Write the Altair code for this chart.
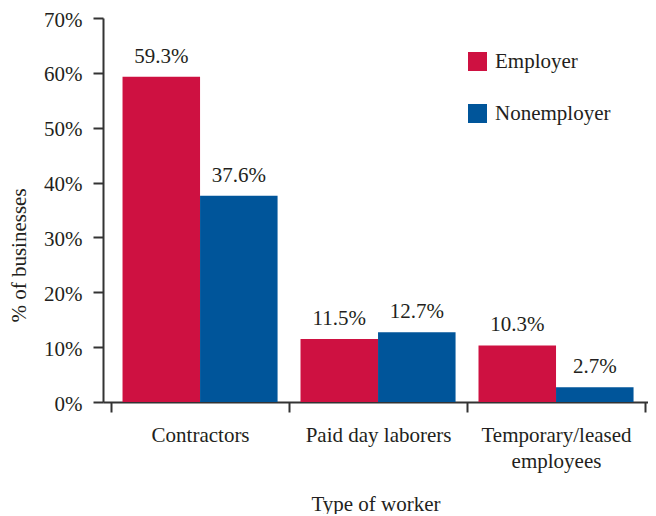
import altair as alt
import pandas as pd

categories = ["Contractors", "Paid day laborers", "Temporary/leased employees"]
series = ["Employer", "Nonemployer"]
employer = [59.3, 11.5, 10.3]
nonemployer = [37.6, 12.7, 2.7]
colors = ["#CE1141", "#00559A"]
y_ticks = [0, 10, 20, 30, 40, 50, 60, 70]

rows = []
for i, c in enumerate(categories):
    rows.append({"cat": c, "series": series[0], "value": employer[i]})
    rows.append({"cat": c, "series": series[1], "value": nonemployer[i]})
df = pd.DataFrame(rows)
df["label"] = df["value"].map(lambda v: f"{v:.1f}%")

FONT = "Liberation Serif"
TXT = "#231F20"
LINE = "#333333"
FS = 21

x_enc = alt.X(
    "cat:N",
    sort=categories,
    scale=alt.Scale(paddingInner=0, paddingOuter=0.031, align=0.73),
    axis=alt.Axis(
        title="Type of worker",
        tickBand="extent",
        labelAngle=0,
        labelExpr="indexof(datum.label, '/') > 0 ? split(datum.label, ' ') : datum.label",
        labelFontSize=FS,
        labelLineHeight=26,
        labelPadding=12,
        labelBaseline="top",
        tickSize=10,
        titleFontSize=FS,
        titleFontWeight="normal",
        titleY=108,
        titleBaseline="alphabetic",
    ),
)
xo_enc = alt.XOffset("series:N", sort=series,
                     scale=alt.Scale(paddingInner=0, paddingOuter=0.148))
y_enc = alt.Y(
    "value:Q",
    scale=alt.Scale(domain=[0, 70], nice=False),
    axis=alt.Axis(
        title="% of businesses",
        values=y_ticks,
        labelExpr="datum.value + '%'",
        labelFontSize=FS,
        labelPadding=11,
        labelOffset=2,
        tickSize=10,
        titleFontSize=FS,
        titleFontWeight="normal",
        titleX=-84,
        titleY=237,
        titleAngle=270,
        titleAlign="center",
        titleBaseline="middle",
    ),
)

bars = alt.Chart(df).mark_bar().encode(
    x=x_enc,
    xOffset=xo_enc,
    y=y_enc,
    color=alt.Color(
        "series:N",
        sort=series,
        scale=alt.Scale(domain=series, range=colors),
        legend=alt.Legend(
            title=None,
            orient="none",
            legendX=364,
            legendY=33,
            symbolType="square",
            symbolSize=361,
            symbolStrokeWidth=0,
            symbolOpacity=1,
            labelFontSize=FS,
            labelOffset=7,
            rowPadding=30,
            padding=0,
        ),
    ),
)

labels = alt.Chart(df).mark_text(
    dy=-14, baseline="alphabetic", fontSize=FS, font=FONT, color=TXT
).encode(
    x=alt.X("cat:N", sort=categories),
    xOffset=alt.XOffset("series:N", sort=series),
    y=alt.Y("value:Q"),
    text="label:N",
)

chart = (
    alt.layer(bars, labels)
    .properties(
        width=545,
        height=384,
        autosize=alt.AutoSizeParams(type="none"),
        padding={"left": 95, "top": 10, "right": 0, "bottom": 112},
    )
    .configure(font=FONT)
    .configure_view(stroke=None)
    .configure_axis(
        grid=False,
        domainColor=LINE,
        domainWidth=2,
        tickColor=LINE,
        tickWidth=2,
        labelColor=TXT,
        titleColor=TXT,
        labelFont=FONT,
        titleFont=FONT,
    )
    .configure_legend(labelColor=TXT, labelFont=FONT)
)

chart.save("out.html", embed_options={"renderer": "svg", "actions": False})
